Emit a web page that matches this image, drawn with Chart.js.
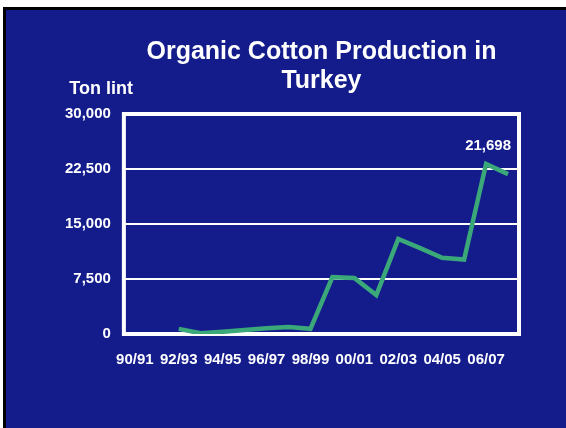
<!DOCTYPE html>
<html>
<head>
<meta charset="utf-8">
<script src="https://cdn.jsdelivr.net/npm/chart.js@4"></script>
<style>
  html, body { margin: 0; padding: 0; background: #ffffff; width: 566px; height: 428px; overflow: hidden; }
  #frame { position: absolute; left: 3px; top: 7px; right: 0; bottom: 0;
           border-left: 3px solid #000; border-top: 3px solid #000; background: #141C8C; }
  #c { position: absolute; left: 0; top: 0; }
</style>
</head>
<body>
<div id="frame"></div>
<canvas id="c" width="566" height="428"></canvas>
<script>
const seasons = ['90/91','91/92','92/93','93/94','94/95','95/96','96/97','97/98','98/99',
                 '99/00','00/01','01/02','02/03','03/04','04/05','05/06','06/07','07/08'];
const production = [null, null, 700, 100, 300, 550, 800, 950, 700,
                    7750, 7650, 5300, 12950, 11700, 10400, 10150, 23200, 21800];
const yTicks = [0, 7500, 15000, 22500, 30000];
const titleLines = ['Organic Cotton Production in', 'Turkey'];
const unitLabel = 'Ton lint';
const peakLabel = '21,698';
const peakIndex = 16;

const FONT = "'Liberation Sans', Arial, sans-serif";

const decor = {
  id: 'decor',
  beforeDatasetsDraw(chart) {
    const { ctx, chartArea: a } = chart;
    ctx.save();
    ctx.strokeStyle = '#ffffff';
    ctx.lineWidth = 4;
    ctx.strokeRect(a.left, a.top, a.right - a.left, a.bottom - a.top);
    ctx.restore();
  },
  afterDraw(chart) {
    const { ctx, chartArea: a } = chart;
    ctx.save();
    ctx.fillStyle = '#ffffff';
    ctx.font = "bold 18px " + FONT;
    ctx.textAlign = 'right';
    ctx.textBaseline = 'middle';
    ctx.fillText(unitLabel, a.left + 9, a.top - 25);
    const pt = chart.getDatasetMeta(0).data[peakIndex];
    ctx.font = "bold 15px " + FONT;
    ctx.textAlign = 'center';
    ctx.fillText(peakLabel, pt.x + 2, pt.y - 18);
    ctx.restore();
  }
};

new Chart(document.getElementById('c'), {
  type: 'line',
  data: {
    labels: seasons,
    datasets: [{
      data: production,
      borderColor: '#3AA878',
      borderWidth: 4.5,
      pointRadius: 0,
      tension: 0,
      fill: false
    }]
  },
  options: {
    responsive: false,
    devicePixelRatio: 1,
    animation: false,
    layout: { padding: { left: 52, right: 47, top: 38, bottom: 42 } },
    plugins: {
      legend: { display: false },
      tooltip: { enabled: false },
      title: {
        display: true,
        text: titleLines,
        fullSize: false,
        color: '#ffffff',
        font: { family: FONT, size: 25, weight: 'bold', lineHeight: 1.16 },
        padding: { top: 0, bottom: 18 }
      }
    },
    scales: {
      x: {
        type: 'category',
        offset: true,
        grid: { display: false, drawTicks: false },
        border: { display: false },
        ticks: {
          color: '#ffffff',
          font: { family: FONT, size: 15, weight: 'bold' },
          padding: 17,
          autoSkip: false,
          maxRotation: 0,
          minRotation: 0,
          callback: function(v, i) { return i % 2 === 0 ? seasons[i] : ''; }
        }
      },
      y: {
        min: 0,
        max: 30000,
        afterBuildTicks: (s) => { s.ticks = yTicks.map(v => ({ value: v })); },
        grid: { color: '#ffffff', lineWidth: 2, drawTicks: false },
        border: { display: false },
        ticks: {
          color: '#ffffff',
          font: { family: FONT, size: 15, weight: 'bold' },
          padding: 13,
          callback: (v) => v.toLocaleString('en-US')
        }
      }
    }
  },
  plugins: [decor]
});
</script>
</body>
</html>
